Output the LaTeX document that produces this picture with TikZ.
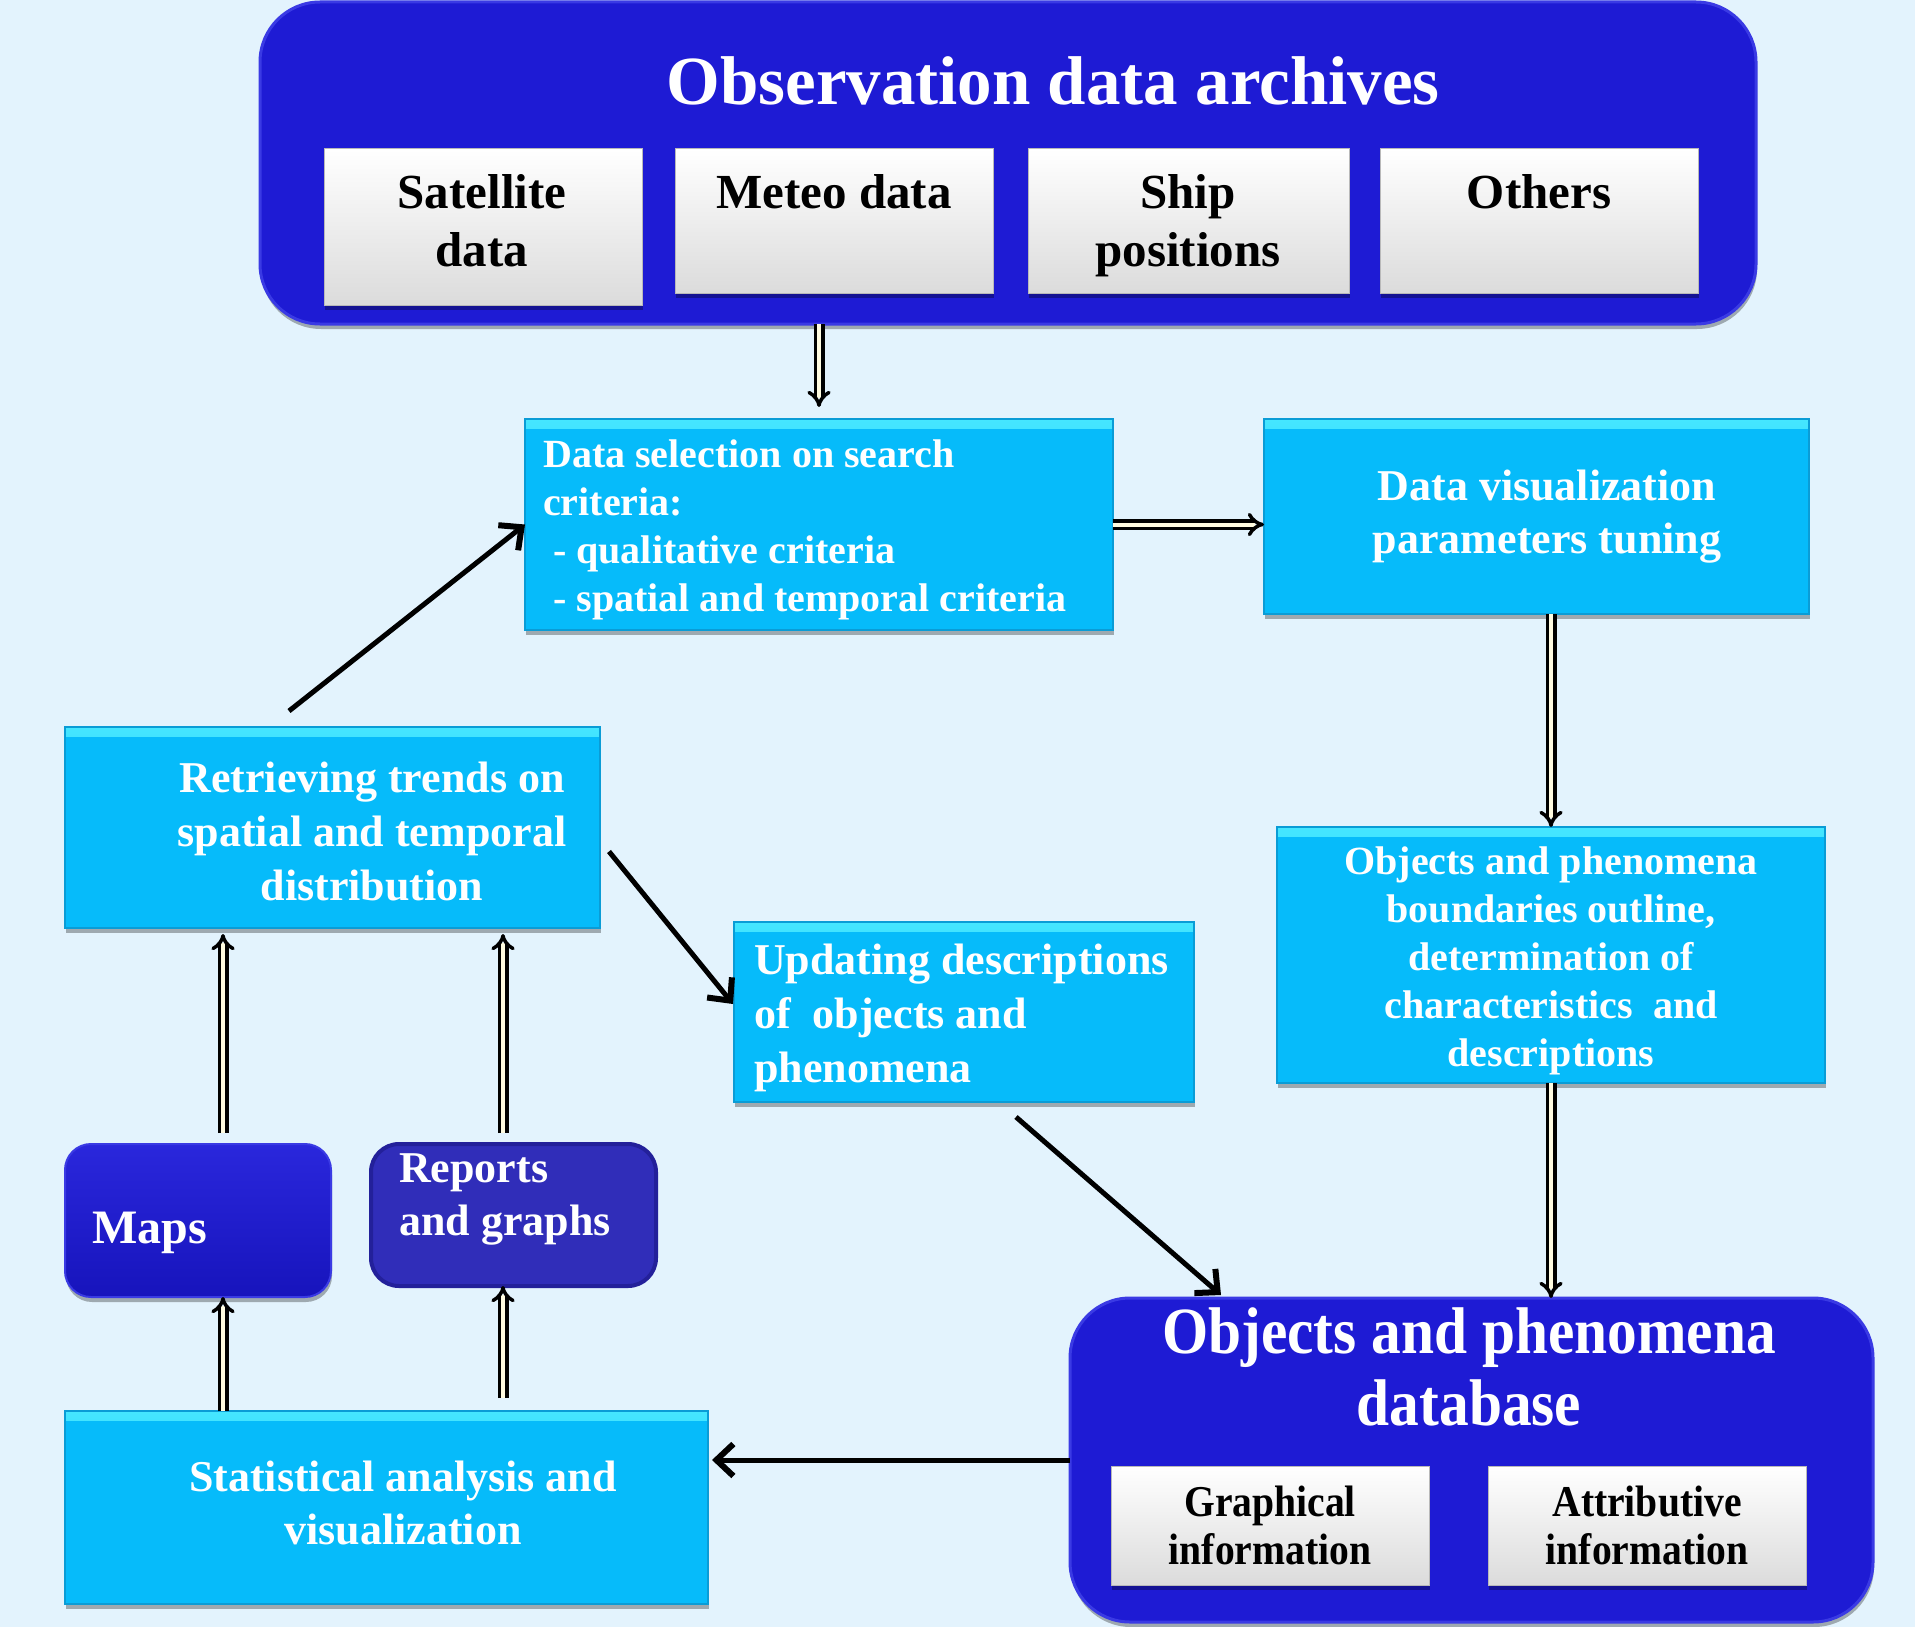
\documentclass[tikz,border=0pt]{standalone}
\usepackage{fontspec}
\setmainfont{Liberation Serif}
\newfontfamily\condfont[FakeStretch=0.9]{Liberation Serif}
\usetikzlibrary{arrows.meta,shadows,calc}
\definecolor{bgc}{HTML}{E3F3FD}
\definecolor{dblue}{HTML}{1E1BD4}
\definecolor{dbluehi}{HTML}{3A3AE4}
\definecolor{dbluelo}{HTML}{1714BC}
\definecolor{mbluetop}{HTML}{2A27DC}
\definecolor{rblue}{HTML}{302DB9}
\definecolor{rblueedge}{HTML}{23209A}
\definecolor{cyanbox}{HTML}{06BBFA}
\definecolor{cyanhi}{HTML}{45E6FF}
\definecolor{cyanedge}{HTML}{0A9CD6}
\definecolor{cream}{HTML}{FFFBE0}
\begin{document}
\begin{tikzpicture}[x=1pt,y=-1pt,
  fs/.style 2 args={font=\fontsize{#1}{#2}\selectfont\bfseries},
  cfs/.style 2 args={font=\condfont\fontsize{#1}{#2}\selectfont\bfseries},
  shad/.style={drop shadow={shadow xshift=1pt, shadow yshift=-5pt, fill=black, opacity=0.3}},
  cbox/.style={shad, draw=cyanedge, line width=1.5pt, fill=cyanbox, inner sep=0pt, outer sep=0pt, anchor=north west,
    path picture={\shade[top color=cyanhi, bottom color=cyanbox] (path picture bounding box.north west) rectangle ([yshift=-9pt]path picture bounding box.north east);}},
  dbox/.style={shad, draw=dbluehi, line width=3pt, fill=dblue, inner sep=0pt, outer sep=0pt, anchor=north west},
  mbox/.style={shad, draw=dbluehi, line width=2pt, top color=mbluetop, bottom color=dbluelo, inner sep=0pt, outer sep=0pt, anchor=north west, rounded corners=26pt},
  rbox/.style={draw=rblueedge, line width=4pt, fill=rblue, inner sep=0pt, outer sep=0pt, anchor=north west, rounded corners=28pt},
  wbox/.style={shad, draw=gray!55, line width=1pt, top color=white, bottom color=gray!28, inner sep=0pt, outer sep=0pt, anchor=north west},
  wtxt/.style={text=white, inner sep=0pt, align=center},
  ltxt/.style={text=white, inner sep=0pt, align=left, anchor=west},
  btxt/.style={text=black, inner sep=0pt, align=center},
  harrow/.style={draw=black, double=cream, double distance=4pt, line width=3.5pt, -{Implies}},
  barrow/.style={line width=5pt, -{Straight Barb[length=17pt,width=32pt,line width=6pt]}}
]
\fill[bgc] (0,0) rectangle (1915,1627);
\useasboundingbox (0,0) rectangle (1915,1627);

% top archive box
\node[dbox, rounded corners=60pt, minimum width=1496pt, minimum height=322pt] (top) at (260,2) {};
\node[wtxt, fs={69}{80}] (topT) at (1053,81) {Observation data archives};
\node[wbox, minimum width=318pt, minimum height=156pt] (sat) at (324,149) {};
\node[btxt, fs={49}{58}] (satT) at (482,221) {Satellite\\data};
\node[wbox, minimum width=318pt, minimum height=144pt] (met) at (675,149) {};
\node[btxt, fs={49}{58}] (metT) at (834,192) {Meteo data};
\node[wbox, minimum width=321pt, minimum height=144pt] (shp) at (1028,149) {};
\node[btxt, fs={49}{58}] (shpT) at (1188,226) {Ship\\positions};
\node[wbox, minimum width=318pt, minimum height=144pt] (oth) at (1380,149) {};
\node[btxt, fs={49}{58}] (othT) at (1539,192) {Others};

% data selection
\node[cbox, minimum width=588pt, minimum height=211pt] (sel) at (525,419) {};
\node[ltxt, fs={40}{48}] (selT) at (543,530) {Data selection on search\\criteria:\\\hspace*{10pt}- qualitative criteria\\\hspace*{10pt}- spatial and temporal criteria};

% visualization
\node[cbox, minimum width=545pt, minimum height=195pt] (vis) at (1264,419) {};
\node[wtxt, fs={44}{53}] (visT) at (1547,517) {Data visualization\\parameters tuning};

% boundaries
\node[cbox, minimum width=548pt, minimum height=256pt] (bnd) at (1277,827) {};
\node[wtxt, fs={40}{48}] (bndT) at (1551,961) {Objects and phenomena\\boundaries outline,\\determination of\\characteristics~ and\\descriptions};

% database
\node[dbox, rounded corners=60pt, minimum width=803pt, minimum height=324pt] (db) at (1070,1298) {};
\node[wtxt, cfs={66}{72}] (dbT) at (1469,1367) {Objects and phenomena\\database};
\node[wbox, minimum width=318pt, minimum height=119pt] (gr) at (1111,1466) {};
\node[btxt, cfs={44}{48}] (grT) at (1270,1525) {Graphical\\information};
\node[wbox, minimum width=318pt, minimum height=119pt] (at) at (1488,1466) {};
\node[btxt, cfs={44}{48}] (atT) at (1647,1525) {Attributive\\information};

% retrieving
\node[cbox, minimum width=535pt, minimum height=201pt] (ret) at (65,727) {};
\node[wtxt, fs={44}{54}] (retT) at (372,831) {Retrieving trends on\\spatial and temporal\\distribution};

% updating
\node[cbox, minimum width=460pt, minimum height=180pt] (upd) at (734,922) {};
\node[ltxt, fs={44}{54}] (updT) at (754,1018) {Updating descriptions\\of~ objects and\\phenomena};

% maps, reports
\node[mbox, minimum width=266pt, minimum height=153pt] (maps) at (65,1144) {};
\node[ltxt, fs={48}{56}] (mapsT) at (92,1233) {Maps};
\node[rbox, minimum width=285pt, minimum height=142pt] (rep) at (371,1144) {};
\node[ltxt, fs={44}{53}] (repT) at (399,1199) {Reports\\and graphs};

% statistical
\node[cbox, minimum width=643pt, minimum height=193pt] (stat) at (65,1411) {};
\node[wtxt, fs={44}{53}] (statT) at (403,1503) {Statistical analysis and\\visualization};

% hollow arrows
\draw[harrow] (sel.north |- top.south) -- ([yshift=12pt]sel.north);
\draw[harrow] (sel.east) -- (sel.east -| vis.west);
\draw[harrow] (bnd.north |- vis.south) -- (bnd.north);
\draw[harrow] (bnd.south) -- (bnd.south |- db.north);
\draw[harrow] ($(stat.north west)+(158,0)$) -- ($(maps.south west)+(158,0)$);
\draw[harrow] ($(stat.north west)+(438,-13)$) -- ($(rep.south west)+(132,0)$);
\draw[harrow] ($(maps.north west)+(158,-11)$) -- ($(ret.south west)+(158,6)$);
\draw[harrow] ($(rep.north west)+(132,-11)$) -- ($(ret.south west)+(438,6)$);

% black arrows
\draw[barrow] ($(ret.north west)+(224,-16)$) -- (sel.west);
\draw[barrow] ($(ret.east)+(9,24)$) -- ($(upd.west)+(-1,-8)$);
\draw[barrow] ($(upd.south)+(52,15)$) -- ($(db.north west)+(151,-3)$);
\draw[barrow] (db.west) -- ($(db.west -| stat.east)+(4,0)$);
\end{tikzpicture}
\end{document}
